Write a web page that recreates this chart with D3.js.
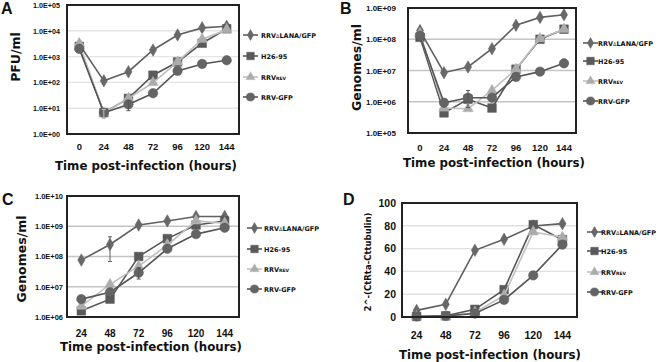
<html>
<head>
<style>
  body { margin: 0; background: #fff; }
  text { font-family: "Liberation Sans", Arial, sans-serif; font-weight: bold; fill: #111; }
  .wide { font-family: "DejaVu Sans", Verdana, sans-serif; }
</style>
</head>
<body>
<svg id="chart" width="664" height="362"></svg>
<script src="https://d3js.org/d3.v7.min.js"></script>
<script>
// series names (same in every panel)
let seriesNames = ["RRV\u0394LANA/GFP", "H26-95", "RRVREV", "RRV-GFP"]

// panel A: PFU/ml
let hoursA = ["0", "24", "48", "72", "96", "120", "144"]
let pfuLana  = [3000, 115, 260, 1800, 6900, 13000, 15000]
let pfuH26   = [2500, 6.7, 24, 190, 620, 3300, 12000]
let pfuRev   = [3200, 6.5, 24, 97, 620, 4700, 11000]
let pfuGfp   = [2000, 6.7, 14, 38, 280, 520, 720]
let errA = [[2, 1, 4, 9], [3, 2, 8, 20]]

// panel B: genomes/ml (supernatant)
let hoursB = ["0", "24", "48", "72", "96", "120", "144"]
let genBLana = [1.9e8, 8.5e6, 1.3e7, 5.0e7, 2.8e8, 5.0e8, 6.1e8]
let genBH26  = [1.15e8, 4.4e5, 1.2e6, 6.3e5, 1.1e7, 1.0e8, 2.1e8]
let genBRev  = [1.5e8, 6.3e5, 6.0e5, 2.3e6, 1.1e7, 1.05e8, 2.1e8]
let genBGfp  = [1.3e8, 9.3e5, 1.35e6, 1.35e6, 6.2e6, 9.2e6, 1.7e7]
let errB = [[3, 2, 6.5e5, 2.3e6]]

// panel C: genomes/ml (cells)
let hoursC = ["24", "48", "72", "96", "120", "144"]
let genCLana = [7.6e7, 2.5e8, 1.1e9, 1.5e9, 2.1e9, 2.1e9]
let genCH26  = [1.6e6, 3.9e6, 1.0e8, 3.9e8, 1.1e9, 1.5e9]
let genCRev  = [2.3e6, 1.2e7, 4.8e7, 2.4e8, 1.5e9, 1.25e9]
let genCGfp  = [3.9e6, 6.6e6, 2.9e7, 1.8e8, 5.5e8, 8.9e8]
let errC = [[0, 1, 6.8e7, 4.5e8], [3, 2, 1.8e7, 4.3e7]]

// panel D: Rta expression
let hoursD = ["24", "48", "72", "96", "120", "144"]
let rtaLana = [5.8, 11.1, 58.5, 68.1, 79.8, 81.9]
let rtaH26  = [0.5, 1, 6.7, 24, 81, 67.8]
let rtaRev  = [0.3, 0.5, 4, 19, 74.6, 70]
let rtaGfp  = [0.5, 1, 3, 15, 36.5, 63.5]
let errD = []

let svg = d3.select("#chart")

let styles = [
    {shape: d3.symbolDiamond, size: 45, line: "#606060", fill: "#686868"},
    {shape: d3.symbolSquare, size: 75, line: "#555", fill: "#5a5a5a"},
    {shape: d3.symbolTriangle, size: 50, line: "#c0c0c0", fill: "#ababab"},
    {shape: d3.symbolCircle, size: 70, line: "#555", fill: "#646464"}
]

let panels = [
    {letter: "A", lx: 1, ly: 13.5, cats: hoursA, series: [pfuLana, pfuH26, pfuRev, pfuGfp], err: errA,
     box: [67, 239, 5, 134], log: true, domain: [1, 1e5], grid: "#e4e4e4", ytick: [8, 27], ypad: 7,
     ytitle: "PFU/ml", ytx: 20, yty: 57, yts: 12.5, xtb: 150, xts: 9.5, xtitleY: 170, xtitleX: 146,
     legX: 243, legT: 261, legY: [35, 56, 77, 97]},
    {letter: "B", lx: 340, ly: 13.5, cats: hoursB, series: [genBLana, genBH26, genBRev, genBGfp], err: errB,
     box: [408, 576, 8, 133], log: true, domain: [1e5, 1e9], grid: "#c4c4c4", ytick: [8, 30], ypad: 12,
     ytitle: "Genomes/ml", ytx: 361, yty: 67.5, yts: 12.5, xtb: 151, xts: 9.5, xtitleY: 167, xtitleX: 494,
     legX: 583, legT: 598, legY: [43, 61, 81, 101]},
    {letter: "C", lx: 2, ly: 205, cats: hoursC, series: [genCLana, genCH26, genCRev, genCGfp], err: errC,
     box: [67, 239, 196, 317], log: true, domain: [1e6, 1e10], grid: "#c4c4c4", ytick: [7.5, 28], ypad: 4,
     ytitle: "Genomes/ml", ytx: 26, yty: 259, yts: 12.5, xtb: 337, xts: 10, xtitleY: 351, xtitleX: 151,
     legX: 247, legT: 264, legY: [228, 249, 269, 289]},
    {letter: "D", lx: 343, ly: 205, cats: hoursD, series: [rtaLana, rtaH26, rtaRev, rtaGfp], err: errD,
     box: [402, 577, 203, 317], log: false, domain: [0, 100], grid: "#e0e0e0", ytick: [10.5, 0], ypad: 6,
     ytitle: "2^-(CtRta-Cttubulin)", ytx: 371, yty: 262, yts: 8.5, xtb: 339, xts: 10.5, xtitleY: 359, xtitleX: 490,
     legX: 587, legT: 601, legY: [232, 251, 272, 292]}
]

function expLabel(v) {
    let e = Math.round(Math.log10(v))
    return "1.0E+" + (e < 10 ? "0" + e : e)
}

panels.forEach(p => {
    let [x0, x1, y0, y1] = p.box
    let x = d3.scaleBand().domain(p.cats).range([x0, x1])
    let cx = c => x(c) + x.bandwidth() / 2
    let y = p.log ? d3.scaleLog().domain(p.domain).range([y1, y0])
                  : d3.scaleLinear().domain(p.domain).range([y1, y0])
    let ticks = p.log ? d3.range(Math.log10(p.domain[0]), Math.log10(p.domain[1]) + 1).map(e => Math.pow(10, e))
                      : d3.range(0, 101, 20)

    let g = svg.append("g")

    // gridlines
    g.selectAll(".grid").data(ticks.slice(1, -1)).enter().append("line")
        .attr("x1", x0).attr("x2", x1)
        .attr("y1", d => y(d)).attr("y2", d => y(d))
        .attr("stroke", p.grid).attr("stroke-width", 1.4)

    // y axis labels
    let yAxis = d3.axisLeft(y).tickValues(ticks).tickSize(0).tickPadding(p.ypad)
        .tickFormat(d => p.log ? expLabel(d) : d)
    let ya = g.append("g").attr("transform", `translate(${x0},0)`).call(yAxis)
    ya.select(".domain").remove()
    ya.selectAll("text").style("font-size", p.ytick[0] + "px").attr("fill", "#111")
    if (p.ytick[1]) ya.selectAll("text").attr("textLength", p.ytick[1]).attr("lengthAdjust", "spacingAndGlyphs")

    // x axis labels
    let xa = g.append("g").attr("transform", `translate(0,${y1})`)
        .call(d3.axisBottom(x).tickSize(0))
    xa.select(".domain").remove()
    xa.selectAll("text").style("font-size", p.xts + "px").attr("fill", "#111")
        .attr("y", p.xtb - y1).attr("dy", null)

    // series lines and markers
    p.series.forEach((vals, si) => {
        let st = styles[si]
        let line = d3.line().x((d, i) => cx(p.cats[i])).y(d => y(d))
        g.append("path").datum(vals).attr("d", line)
            .attr("fill", "none").attr("stroke", st.line).attr("stroke-width", 1.6)
        g.selectAll(".m" + si).data(vals).enter().append("path")
            .attr("transform", (d, i) => `translate(${cx(p.cats[i])},${y(d)})`)
            .attr("d", d3.symbol().type(st.shape).size(st.size))
            .attr("fill", st.fill).attr("stroke", st.line).attr("stroke-width", 0.5)
    })

    // error bars
    p.err.forEach(([si, xi, lo, hi]) => {
        let xc = cx(p.cats[xi])
        let eg = g.append("g").attr("stroke", styles[si].line).attr("stroke-width", 1)
        eg.append("line").attr("x1", xc).attr("x2", xc).attr("y1", y(lo)).attr("y2", y(hi))
        eg.append("line").attr("x1", xc - 2).attr("x2", xc + 2).attr("y1", y(lo)).attr("y2", y(lo))
        eg.append("line").attr("x1", xc - 2).attr("x2", xc + 2).attr("y1", y(hi)).attr("y2", y(hi))
    })

    // frame
    g.append("rect").attr("x", x0).attr("y", y0).attr("width", x1 - x0).attr("height", y1 - y0)
        .attr("fill", "none").attr("stroke", "#222").attr("stroke-width", 2)

    // titles
    g.append("text").attr("x", p.lx).attr("y", p.ly).style("font-size", "16px").text(p.letter)
    g.append("text").attr("class", "wide")
        .attr("transform", `translate(${p.ytx},${p.yty}) rotate(-90)`)
        .attr("text-anchor", "middle").style("font-size", p.yts + "px").text(p.ytitle)
    g.append("text").attr("class", "wide").attr("x", p.xtitleX).attr("y", p.xtitleY).attr("text-anchor", "middle")
        .style("font-size", "11.8px").text("Time post-infection (hours)")

    // legend
    seriesNames.forEach((name, si) => {
        let st = styles[si]
        let ly = p.legY[si]
        g.append("line").attr("x1", p.legX).attr("x2", p.legX + 15).attr("y1", ly).attr("y2", ly)
            .attr("stroke", st.line).attr("stroke-width", 1.6)
        g.append("path").attr("transform", `translate(${p.legX + 7.5},${ly})`)
            .attr("d", d3.symbol().type(st.shape).size(st.size * 0.75))
            .attr("fill", st.fill).attr("stroke", st.line).attr("stroke-width", 0.5)
        let t = g.append("text").attr("class", "wide").attr("x", p.legT).attr("y", ly + 2.5)
            .style("font-size", "6.5px")
        if (name === "RRVREV") {
            t.append("tspan").text("RRV")
            t.append("tspan").style("font-size", "4.5px").text("REV")
        } else if (name.indexOf("\u0394") >= 0) {
            t.append("tspan").text("RRV")
            t.append("tspan").style("font-size", "5px").style("font-weight", "normal").text("\u0394")
            t.append("tspan").text("LANA/GFP")
        } else {
            t.text(name)
        }
    })
})
</script>
</body>
</html>
